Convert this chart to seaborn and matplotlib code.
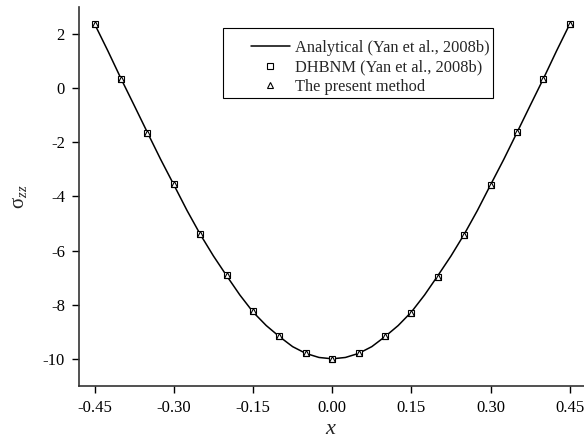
import matplotlib
matplotlib.use("Agg")
import matplotlib.pyplot as plt
from matplotlib.lines import Line2D
from matplotlib.legend_handler import HandlerLine2D
import seaborn as sns
import pandas as pd

# Analytical curve at 0.025 steps
line_x = [-0.450, -0.425, -0.400, -0.375, -0.350, -0.325, -0.300, -0.275, -0.250,
          -0.225, -0.200, -0.175, -0.150, -0.125, -0.100, -0.075, -0.050, -0.025,
          0.000, 0.025, 0.050, 0.075, 0.100, 0.125, 0.150, 0.175, 0.200, 0.225,
          0.250, 0.275, 0.300, 0.325, 0.350, 0.375, 0.400, 0.425, 0.450]
analytical = [2.37, 1.38, 0.35, -0.64, -1.64, -2.63, -3.57, -4.52, -5.40,
              -6.20, -6.93, -7.64, -8.27, -8.77, -9.18, -9.55, -9.80, -9.95,
              -10.0, -9.95, -9.80, -9.55, -9.18, -8.77, -8.27, -7.64, -6.93, -6.20,
              -5.40, -4.52, -3.57, -2.63, -1.64, -0.64, 0.35, 1.38, 2.37]

# Numerical results at 0.05 steps
x_vals = [-0.45, -0.40, -0.35, -0.30, -0.25, -0.20, -0.15, -0.10, -0.05, 0.00,
          0.05, 0.10, 0.15, 0.20, 0.25, 0.30, 0.35, 0.40, 0.45]
dhbnm = [2.37, 0.33, -1.64, -3.55, -5.40, -6.89, -8.25, -9.17, -9.80, -10.0,
         -9.80, -9.17, -8.29, -6.98, -5.41, -3.57, -1.63, 0.34, 2.37]
present = [2.37, 0.33, -1.64, -3.55, -5.40, -6.89, -8.25, -9.17, -9.80, -10.0,
           -9.80, -9.17, -8.29, -6.98, -5.41, -3.57, -1.63, 0.34, 2.37]
x_ticks = [-0.45, -0.30, -0.15, 0.00, 0.15, 0.30, 0.45]
y_ticks = [2, 0, -2, -4, -6, -8, -10]

sns.set_style("ticks")
plt.rcParams['font.family'] = ['Liberation Serif', 'DejaVu Serif']
plt.rcParams['axes.unicode_minus'] = False
plt.rcParams['mathtext.fontset'] = 'custom'
plt.rcParams['mathtext.rm'] = 'Liberation Serif'
plt.rcParams['mathtext.it'] = 'Liberation Serif:italic'

df_line = pd.DataFrame({"x": line_x, "y": analytical})
df = pd.DataFrame({"x": x_vals, "dhbnm": dhbnm, "present": present})

fig = plt.figure(figsize=(5.84, 4.41), dpi=100)
ax = fig.add_axes([0.135, 0.125, 0.865, 0.859])

sns.lineplot(data=df_line, x="x", y="y", ax=ax, color="black", linewidth=1.1,
             label="Analytical (Yan et al., 2008b)", sort=True)
ax.plot(df["x"], df["dhbnm"], linestyle="none", marker="s", markersize=4,
        markerfacecolor="white", markeredgecolor="black", markeredgewidth=0.8,
        label="DHBNM (Yan et al., 2008b)")
ax.plot(df["x"], df["present"], linestyle="none", marker="^", markersize=5,
        markerfacecolor="none", markeredgecolor="black", markeredgewidth=0.8,
        label="The present method")

ax.set_xlim(-0.480, 0.477)
ax.set_ylim(-11.0, 3.0)
ax.set_xticks(x_ticks)
ax.set_xticklabels([f"{t:.2f}" for t in x_ticks])
ax.set_yticks(y_ticks)
ax.set_yticklabels([str(t) for t in y_ticks])
ax.tick_params(direction="out", length=5, width=1, labelsize=12, colors="black", pad=5)

for s in ["top", "right"]:
    ax.spines[s].set_visible(False)
for s in ["left", "bottom"]:
    ax.spines[s].set_color("#333333")
    ax.spines[s].set_linewidth(1.2)

ax.set_xlabel(r"$\it{x}$", fontsize=16, labelpad=3)
ax.set_ylabel(r"σ$_{zz}$", fontsize=15, labelpad=10)

leg = ax.legend(loc="upper left", bbox_to_anchor=(0.285, 0.945), borderaxespad=0,
                fontsize=11.8, frameon=True, fancybox=False, edgecolor="black",
                framealpha=1, handlelength=3.9, borderpad=0.2, labelspacing=0.22,
                handletextpad=0.3, title=" ", title_fontsize=5,
                handler_map={Line2D: HandlerLine2D(xpad=1.5)})
leg.get_frame().set_linewidth(0.8)

fig.savefig("out.png", dpi=100)
